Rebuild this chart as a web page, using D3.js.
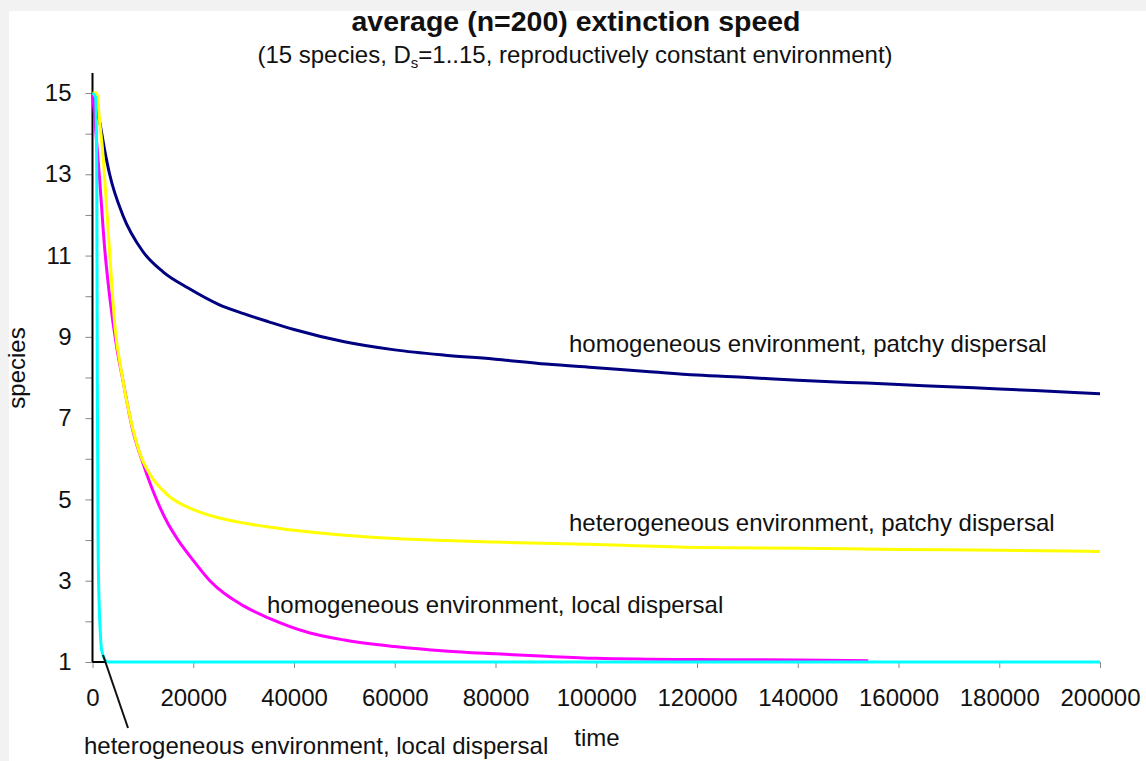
<!DOCTYPE html>
<html>
<head>
<meta charset="utf-8">
<script src="https://cdn.jsdelivr.net/npm/d3@7"></script>
<style>
  body { margin: 0; background: #f2f2f2; }
  text { font-family: "Liberation Sans", Arial, sans-serif; fill: #111; }
</style>
</head>
<body>
<div id="chart"></div>
<script>
// homogeneous environment, patchy dispersal (navy)
const homPatchyT = [0, 500, 1400, 2400, 3400, 6000, 10000, 14000, 19000, 25000, 30000, 35000, 40000, 50000, 60000, 70000, 80000, 90000, 100000, 110000, 120000, 130000, 140000, 150000, 160000, 170000, 180000, 190000, 200000];
const homPatchyS = [15, 14.7, 14.3, 13.6, 13.0, 12.0, 11.1, 10.6, 10.2, 9.8, 9.57, 9.37, 9.18, 8.88, 8.68, 8.55, 8.45, 8.33, 8.24, 8.15, 8.06, 8.0, 7.93, 7.88, 7.83, 7.77, 7.72, 7.66, 7.6];

// heterogeneous environment, patchy dispersal (yellow)
const hetPatchyT = [0, 800, 1500, 2000, 2800, 3500, 4500, 5800, 7500, 9500, 11500, 15000, 20000, 25000, 30000, 35000, 40000, 50000, 60000, 70000, 80000, 100000, 120000, 140000, 160000, 180000, 200000];
const hetPatchyS = [15, 15, 14.2, 13.6, 12.2, 10.9, 9.2, 8.1, 7.0, 6.1, 5.6, 5.1, 4.75, 4.55, 4.42, 4.32, 4.24, 4.12, 4.04, 3.99, 3.95, 3.89, 3.82, 3.8, 3.77, 3.75, 3.72];

// homogeneous environment, local dispersal (magenta)
const homLocalT = [0, 300, 1400, 2400, 3400, 4800, 6000, 8000, 10000, 12700, 15000, 17000, 20000, 23300, 30000, 35000, 43000, 50000, 60000, 70000, 80000, 90000, 100000, 110000, 120000, 140000, 154000];
const homLocalS = [15, 14.6, 12.9, 11.2, 10.0, 8.75, 7.95, 6.7, 5.9, 5.0, 4.4, 4.0, 3.5, 3.0, 2.38, 2.08, 1.72, 1.54, 1.38, 1.27, 1.2, 1.14, 1.09, 1.07, 1.06, 1.05, 1.03];

// heterogeneous environment, local dispersal (cyan)
const hetLocalT = [0, 600, 850, 950, 1100, 1300, 1500, 1800, 2500, 3000, 200000];
const hetLocalS = [15, 14.9, 13, 8, 4, 2.5, 1.86, 1.3, 1.05, 1, 1];

const xTicks = [0, 20000, 40000, 60000, 80000, 100000, 120000, 140000, 160000, 180000, 200000];
const yTicks = [1, 2, 3, 4, 5, 6, 7, 8, 9, 10, 11, 12, 13, 14, 15];
const yLabels = [1, 3, 5, 7, 9, 11, 13, 15];

const width = 1146, height = 761;

const svg = d3.select("#chart")
  .append("svg")
  .attr("width", width)
  .attr("height", height);

// grey page, white panel
svg.append("rect").attr("width", width).attr("height", height).attr("fill", "#f2f2f2");
svg.append("rect").attr("x", 9).attr("y", 11).attr("width", width - 9).attr("height", height - 11).attr("fill", "#fff");

const x = d3.scaleLinear().domain([0, 200000]).range([92.5, 1100]);
const y = d3.scaleLinear().domain([1, 15]).range([662, 93]);

// titles
svg.append("text")
  .attr("x", 576).attr("y", 31)
  .attr("text-anchor", "middle")
  .style("font-size", "28.5px").style("font-weight", 700)
  .text("average (n=200) extinction speed");

const sub = svg.append("text")
  .attr("x", 575).attr("y", 63)
  .attr("text-anchor", "middle")
  .style("font-size", "24px");
sub.append("tspan").text("(15 species, D");
sub.append("tspan").attr("dy", 5).style("font-size", "15px").text("s");
sub.append("tspan").attr("dy", -5).text("=1..15, reproductively constant environment)");

// axes
const xAxis = svg.append("g")
  .attr("transform", `translate(0,${y(1)})`)
  .call(d3.axisBottom(x).tickValues(xTicks).tickSize(6).tickPadding(21).tickFormat(d3.format("d")));
xAxis.select(".domain").remove();
xAxis.selectAll(".tick line").attr("stroke", "#888");
xAxis.selectAll(".tick text").style("font-size", "24px").style("font-family", "Liberation Sans, Arial, sans-serif").attr("fill", "#111");

const yAxis = svg.append("g")
  .attr("transform", `translate(${x(0)},0)`)
  .call(d3.axisLeft(y).tickValues(yTicks).tickSize(7).tickPadding(14)
    .tickFormat(d => yLabels.includes(d) ? d : ""));
yAxis.select(".domain").remove();
yAxis.selectAll(".tick line").attr("stroke", "#888");
yAxis.selectAll(".tick text").style("font-size", "24px").style("font-family", "Liberation Sans, Arial, sans-serif").attr("fill", "#111");

// axis lines (y axis runs a bit above 15)
svg.append("line").attr("x1", x(0)).attr("x2", x(0)).attr("y1", 73).attr("y2", y(1))
  .attr("stroke", "#000").attr("stroke-width", 2);
svg.append("line").attr("x1", x(0)).attr("x2", x(200000)).attr("y1", y(1)).attr("y2", y(1))
  .attr("stroke", "#000").attr("stroke-width", 2);

svg.append("text")
  .attr("x", 597).attr("y", 746)
  .attr("text-anchor", "middle")
  .style("font-size", "24px")
  .text("time");

svg.append("text")
  .attr("transform", "translate(24.5,368) rotate(-90)")
  .attr("text-anchor", "middle")
  .style("font-size", "24px")
  .text("species");

// series
const series = [
  { t: homPatchyT, s: homPatchyS, color: "#000080" },
  { t: homLocalT, s: homLocalS, color: "#ff00ff" },
  { t: hetPatchyT, s: hetPatchyS, color: "#ffff00" },
  { t: hetLocalT, s: hetLocalS, color: "#00ffff" }
];

const line = d3.line()
  .curve(d3.curveMonotoneX)
  .x(d => x(d[0]))
  .y(d => y(d[1]));

svg.selectAll(".series")
  .data(series)
  .enter()
  .append("path")
  .attr("class", "series")
  .attr("fill", "none")
  .attr("stroke", d => d.color)
  .attr("stroke-width", 3)
  .attr("stroke-linejoin", "round")
  .attr("d", d => line(d.t.map((t, i) => [t, d.s[i]])));

// curve labels
const labels = [
  { text: "homogeneous environment, patchy dispersal", x: 569, y: 352 },
  { text: "heterogeneous environment, patchy dispersal", x: 569, y: 531 },
  { text: "homogeneous environment, local dispersal", x: 267, y: 613 },
  { text: "heterogeneous environment, local dispersal", x: 84, y: 754 }
];

svg.selectAll(".lbl")
  .data(labels)
  .enter()
  .append("text")
  .attr("class", "lbl")
  .attr("x", d => d.x)
  .attr("y", d => d.y)
  .style("font-size", "24px")
  .text(d => d.text);

// pointer for the cyan curve
svg.append("line")
  .attr("x1", 103).attr("y1", 655)
  .attr("x2", 128).attr("y2", 728)
  .attr("stroke", "#111").attr("stroke-width", 2);
</script>
</body>
</html>
